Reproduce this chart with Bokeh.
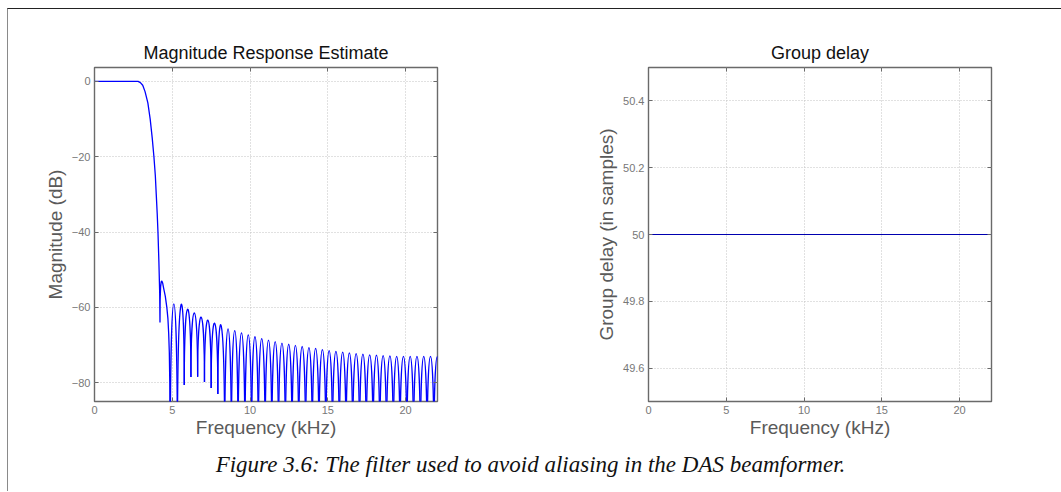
from bokeh.plotting import figure
from bokeh.layouts import column, row
from bokeh.models import Range1d, FixedTicker, LinearAxis, ColumnDataSource
from bokeh.core.properties import value
from bokeh.embed import file_html
from bokeh.resources import INLINE

# ---------------- data ----------------
# passband, transition band and first (irregular) side lobe
mainlobe_khz = [0.0, 2.80, 2.95, 3.10, 3.25, 3.43, 3.58, 3.71, 3.82, 3.91, 3.97, 4.03,
                4.08, 4.14, 4.19, 4.21, 4.22, 4.25, 4.29, 4.33, 4.38, 4.45, 4.55, 4.65,
                4.72, 4.77, 4.81, 4.84, 4.87]
mainlobe_db = [0.0, 0.0, -0.3, -1.0, -2.7, -5.7, -10.0, -15.0, -20.0, -25.0, -30.0, -35.0,
               -40.0, -48.0, -56.0, -64.0, -58.0, -54.5, -53.2, -53.0, -53.5, -55.0, -57.0, -60.0,
               -63.0, -67.0, -72.0, -80.0, -100.0]
# stop-band lobes: null frequencies / null depths and lobe peak levels
null_khz = [4.87, 5.33, 5.77, 6.20, 6.63, 7.07, 7.50, 7.93, 8.37, 8.80,
            9.23, 9.67, 10.10, 10.53, 10.97, 11.40, 11.83, 12.27, 12.70, 13.13,
            13.57, 14.00, 14.43, 14.87, 15.30, 15.74, 16.17, 16.60, 17.04, 17.47,
            17.91, 18.34, 18.77, 19.21, 19.64, 20.08, 20.51, 20.95, 21.38, 21.82, 22.25]
null_db = [-100.0, -100.0, -80.6, -78.5, -78.4, -79.8, -81.4, -83.0, -100.0, -100.0,
           -100.0, -100.0, -100.0, -100.0, -100.0, -100.0, -100.0, -100.0, -100.0, -100.0,
           -100.0, -100.0, -100.0, -100.0, -100.0, -100.0, -100.0, -100.0, -100.0, -100.0,
           -100.0, -100.0, -100.0, -100.0, -100.0, -100.0, -100.0, -100.0, -100.0, -100.0, -100.0]
peak_db = [-59.1, -59.6, -60.5, -61.5, -62.6, -63.4, -64.2, -65.0, -65.7, -66.2,
           -66.8, -67.3, -67.8, -68.3, -68.7, -69.1, -69.5, -69.8, -70.1, -70.4,
           -70.7, -70.9, -71.2, -71.5, -71.7, -71.9, -72.1, -72.3, -72.4, -72.6,
           -72.7, -72.8, -72.9, -73.0, -73.0, -73.0, -73.0, -73.0, -73.0, -73.1]

gd_khz = [0.0, 22.05]
gd_samples = [50.0, 50.0]

freq_ticks = [0, 5, 10, 15, 20]
mag_ticks = [-80, -60, -40, -20, 0]
mag_tick_labels = ["\u221280", "\u221260", "\u221240", "\u221220", "0"]
gd_ticks = [49.6, 49.8, 50.0, 50.2, 50.4]
gd_tick_labels = ["49.6", "49.8", "50", "50.2", "50.4"]

caption = "Figure 3.6: The filter used to avoid aliasing in the DAS beamformer."

# ---------------- helpers ----------------
FONT = "Liberation Sans"
FRAME_COL = "#6a6a6a"
GRID_COL = "#c2c2c2"
TICK_COL = "#777777"
LABEL_COL = "#5a5a5a"


def make_axes(p, xticks, yticks, ylabels, xlabel, ylabel):
    xt = FixedTicker(ticks=xticks)
    yt = FixedTicker(ticks=yticks)
    p.xaxis[0].ticker = xt
    p.yaxis[0].ticker = yt
    p.yaxis[0].major_label_overrides = {t: l for t, l in zip(yticks, ylabels)}
    p.xaxis[0].axis_label = xlabel
    p.yaxis[0].axis_label = ylabel
    for ax in (p.xaxis[0], p.yaxis[0]):
        ax.axis_line_color = None
        ax.major_tick_in = 4
        ax.major_tick_out = 0
        ax.minor_tick_line_color = None
        ax.major_tick_line_color = FRAME_COL
        ax.major_label_text_font = FONT
        ax.major_label_text_font_size = "11px"
        ax.major_label_text_color = TICK_COL
        ax.major_label_standoff = 4
        ax.axis_label_text_font = FONT
        ax.axis_label_text_font_size = "19px"
        ax.axis_label_text_font_style = "normal"
        ax.axis_label_text_color = LABEL_COL
    p.xaxis[0].axis_label_standoff = 0
    p.yaxis[0].axis_label_standoff = 3
    # ticks on the opposite sides (box on)
    top = LinearAxis(ticker=xt, major_label_text_font_size="0px", axis_line_color=None,
                     major_tick_in=4, major_tick_out=0, minor_tick_line_color=None,
                     major_tick_line_color=FRAME_COL,
                     major_label_overrides={t: "" for t in xticks})
    right = LinearAxis(ticker=yt, major_label_text_font_size="0px", axis_line_color=None,
                       major_tick_in=4, major_tick_out=0, minor_tick_line_color=None,
                       major_tick_line_color=FRAME_COL,
                       major_label_overrides={t: "" for t in yticks})
    p.add_layout(top, "above")
    p.add_layout(right, "right")
    p.xgrid.ticker = xt
    p.ygrid.ticker = yt
    for g in (p.xgrid[0], p.ygrid[0]):
        g.grid_line_color = GRID_COL
        g.grid_line_dash = "1 2"
        g.grid_line_width = 1
    p.outline_line_color = FRAME_COL
    p.outline_line_width = 1.4
    p.title.text_font = FONT
    p.title.text_font_size = "18px"
    p.title.text_font_style = "normal"
    p.title.text_color = "#111111"
    p.title.align = "center"
    p.background_fill_color = "white"
    p.border_fill_color = "white"


PLOT_H = 433

# ---------------- magnitude response ----------------
p1 = figure(width=522, height=PLOT_H, output_backend="svg", toolbar_location=None,
            title="Magnitude Response Estimate",
            x_range=Range1d(0, 22.05), y_range=Range1d(-85, 3.7),
            min_border_left=86, min_border_right=93, min_border_top=58, min_border_bottom=41)
make_axes(p1, freq_ticks, mag_ticks, mag_tick_labels, "Frequency (kHz)", "Magnitude (dB)")

p1.line(mainlobe_khz, mainlobe_db, line_color="#0000ff", line_width=1.3)

x0 = null_khz[:-1]
x1 = null_khz[1:]
y0 = null_db[:-1]
y1 = null_db[1:]
cy = [(pk - (a + b) / 8.0) / 0.75 for pk, a, b in zip(peak_db, y0, y1)]
lobes = ColumnDataSource(dict(x0=x0, y0=y0, x1=x1, y1=y1, cx0=x0, cy0=cy, cx1=x1, cy1=cy))
p1.bezier(x0="x0", y0="y0", x1="x1", y1="y1", cx0="cx0", cy0="cy0", cx1="cx1", cy1="cy1",
          source=lobes, line_color="#0000ff", line_width=1.3)

# ---------------- group delay ----------------
p2 = figure(width=531, height=PLOT_H, output_backend="svg", toolbar_location=None,
            title="Group delay",
            x_range=Range1d(0, 22.05), y_range=Range1d(49.5, 50.5),
            min_border_left=118, min_border_right=70, min_border_top=58, min_border_bottom=41)
make_axes(p2, freq_ticks, gd_ticks, gd_tick_labels, "Frequency (kHz)", "Group delay (in samples)")
p2.line(gd_khz, gd_samples, line_color="#0000b0", line_width=1.2)

# ---------------- caption ----------------
CAP_H = 49
cap = figure(width=1053, height=CAP_H, output_backend="svg", toolbar_location=None,
             x_range=Range1d(0, 1053), y_range=Range1d(0, CAP_H), min_border=0)
cap.axis.visible = False
cap.grid.visible = False
cap.outline_line_color = None
cap.text(x=[522], y=[27.5], text=[caption], text_align="center", text_baseline="middle",
         text_font=value("Liberation Serif"), text_font_style="italic",
         text_font_size="23px", text_color="#111111")

layout = column(row(p1, p2), cap,
                styles={"border-top": "1.5px solid #222222",
                        "border-left": "1px solid #8a8a8a",
                        "margin-left": "7px", "margin-top": "8px"})

open("out.html", "w").write(file_html(layout, INLINE))
